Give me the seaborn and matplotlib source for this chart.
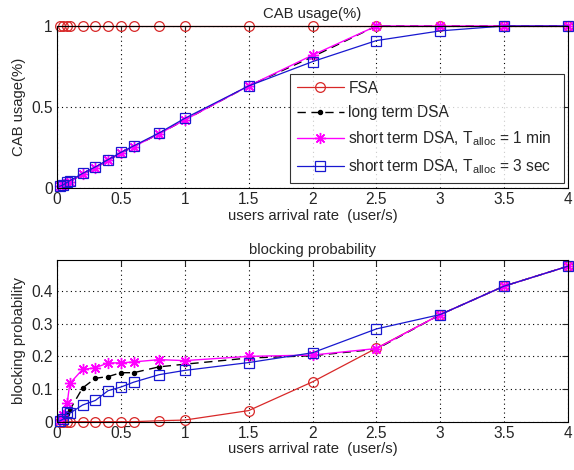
import numpy as np
import pandas as pd
import matplotlib
matplotlib.use("Agg")
import matplotlib.pyplot as plt
import seaborn as sns

sns.set_style("white")
plt.rcParams['font.family'] = ['Liberation Sans', 'DejaVu Sans']
plt.rcParams['mathtext.fontset'] = 'custom'
plt.rcParams['mathtext.rm'] = 'Liberation Sans'
plt.rcParams['mathtext.it'] = 'Liberation Sans'
plt.rcParams['font.size'] = 10

FS = 11.2

# ---------------- data ----------------
x = [0.02, 0.05, 0.08, 0.1, 0.2, 0.3, 0.4, 0.5, 0.6, 0.8, 1, 1.5, 2, 2.5, 3, 3.5, 4]

cab_fsa = [1, 1, 1, 1, 1, 1, 1, 1, 1, 1, 1, 1, 1, 1, 1, 1, 1]
cab_long = [0.01, 0.02, 0.03, 0.04, 0.085, 0.125, 0.17, 0.215, 0.255, 0.335, 0.42, 0.63, 0.81, 1, 1, 1, 1]
cab_short1 = [0.01, 0.02, 0.03, 0.04, 0.085, 0.125, 0.17, 0.215, 0.255, 0.335, 0.42, 0.63, 0.82, 1, 1, 1, 1]
cab_short3 = [0.01, 0.02, 0.035, 0.045, 0.09, 0.13, 0.175, 0.22, 0.26, 0.34, 0.43, 0.63, 0.78, 0.91, 0.97, 1, 1]

bp_fsa = [0, 0, 0, 0, 0, 0, 0, 0, 0, 0.003, 0.005, 0.034, 0.122, 0.225, 0.328, 0.415, 0.476]
bp_long = [0.005, 0.01, 0.025, 0.036, 0.103, 0.133, 0.138, 0.15, 0.15, 0.168, 0.176, 0.195, 0.202, 0.222, 0.328, 0.415, 0.476]
bp_short1 = [0.005, 0.02, 0.057, 0.117, 0.16, 0.165, 0.18, 0.18, 0.183, 0.19, 0.187, 0.2, 0.204, 0.224, 0.328, 0.415, 0.476]
bp_short3 = [0.002, 0.008, 0.031, 0.026, 0.051, 0.065, 0.095, 0.106, 0.121, 0.144, 0.157, 0.181, 0.211, 0.284, 0.328, 0.415, 0.476]

labels = ['FSA', 'long term DSA',
          r'short term DSA, T$_{\mathrm{alloc}}$ = 1 min',
          r'short term DSA, T$_{\mathrm{alloc}}$ = 3 sec']
xticks = [0, 0.5, 1, 1.5, 2, 2.5, 3, 3.5, 4]

styles = [
    dict(color='#d82828', marker='o', ms=7, mfc='none', mec='#d82828', mew=0.9, lw=0.9, ls='-'),
    dict(color='black', marker='.', ms=6, mfc='black', mec='black', mew=0.9, lw=1.0, ls=(0, (6, 4))),
    dict(color='#ff00ff', marker=(8, 2, 0), ms=8, mfc='#ff00ff', mec='#ff00ff', mew=1.0, lw=1.0, ls='-'),
    dict(color='#1818d0', marker='s', ms=7, mfc='none', mec='#1818d0', mew=0.9, lw=0.9, ls='-'),
]

fig = plt.figure(figsize=(5.74, 4.70), dpi=100)
W, H = 574, 470
ax1 = fig.add_axes([57 / W, 1 - 188 / H, 511 / W, 162 / H])
ax2 = fig.add_axes([57 / W, 1 - 421.7 / H, 511 / W, 161.7 / H])

def draw(ax, series):
    for ys, lab, st in zip(series, labels, styles):
        df = pd.DataFrame({'x': x, 'y': ys})
        st = dict(st)
        ls = st.pop('ls')
        sns.lineplot(data=df, x='x', y='y', ax=ax, label=lab, linestyle=ls,
                     markeredgecolor=st.pop('mec'), markeredgewidth=st.pop('mew'),
                     **st)
    ax.set_xlim(0, 4)
    ax.set_xticks(xticks)
    ax.set_xticklabels([f'{t:g}' for t in xticks])
    ax.grid(True, color='black', linestyle=(0, (1, 3)), linewidth=0.8)
    ax.tick_params(direction='in', top=True, right=True, length=4, labelsize=FS, pad=3)
    for s in ax.spines.values():
        s.set_color('black')
        s.set_linewidth(0.8)
    ax.set_xlabel('users arrival rate  (user/s)', fontsize=FS - 0.5, labelpad=1)

draw(ax1, [cab_fsa, cab_long, cab_short1, cab_short3])
ax1.set_ylim(0, 1)
ax1.set_yticks([0, 0.5, 1])
ax1.set_yticklabels(['0', '0.5', '1'])
ax1.set_ylabel('CAB usage(%)', fontsize=FS - 0.5)
ax1.set_title('CAB usage(%)', fontsize=FS - 0.5, pad=6)
leg = ax1.legend(loc='lower left', bbox_to_anchor=(0.456, 0.03, 0.536, 0.655), mode='expand',
                 fontsize=FS, frameon=True, fancybox=False, borderpad=0.45, borderaxespad=0,
                 handlelength=3.0, labelspacing=0.6, handletextpad=0.3)
leg.get_frame().set_edgecolor('black')
leg.get_frame().set_linewidth(0.8)
for ln in ax1.lines:
    ln.set_clip_on(False)

draw(ax2, [bp_fsa, bp_long, bp_short1, bp_short3])
ax2.set_ylim(0, 0.495)
ax2.set_yticks([0, 0.1, 0.2, 0.3, 0.4])
ax2.set_yticklabels(['0', '0.1', '0.2', '0.3', '0.4'])
ax2.set_ylabel('blocking probability', fontsize=FS - 0.5)
ax2.set_title('blocking probability', fontsize=FS - 0.5, pad=4)
ax2.get_legend().remove()
for ln in ax2.lines:
    ln.set_clip_on(False)

fig.savefig('out.png', dpi=100)
